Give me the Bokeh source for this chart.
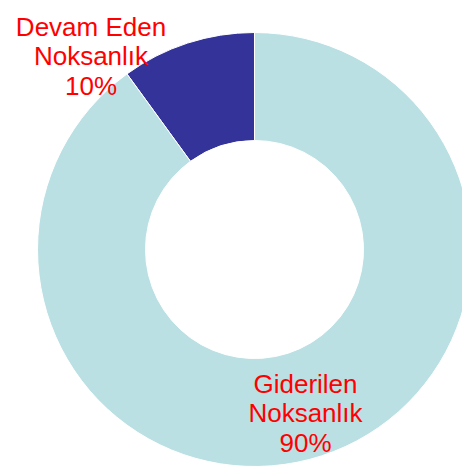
import math
from bokeh.plotting import figure
from bokeh.models import Range1d, ColumnDataSource
from bokeh.core.properties import value
from bokeh.embed import file_html
from bokeh.resources import INLINE

# data
categories = ["Devam Eden Noksanlık", "Giderilen Noksanlık"]
values = [10, 90]
colors = ["#333399", "#BBE0E3"]

# layout
W, H = 462, 467
cx, cy = 254, H - 249
r_out, r_in = 217, 109
label_pos = [(90.5, H - 26), (305, H - 383)]
line_gap = 29.7

total = sum(values)
starts, ends = [], []
a = math.pi / 2  # start at 12 o'clock, go counter-clockwise
for v in values:
    span = 2 * math.pi * v / total
    starts.append(a)
    ends.append(a + span)
    a += span

src = ColumnDataSource(dict(start=starts, end=ends, color=colors))

p = figure(width=W, height=H, output_backend="svg", toolbar_location=None,
           x_range=Range1d(0, W), y_range=Range1d(0, H), min_border=0)
p.axis.visible = False
p.grid.visible = False
p.outline_line_color = None
p.background_fill_color = "white"
p.border_fill_color = "white"

p.annular_wedge(x=cx, y=cy, inner_radius=r_in, outer_radius=r_out,
                start_angle="start", end_angle="end", fill_color="color",
                line_color="white", line_width=1, source=src)

for cat, v, (lx, ly) in zip(categories, values, label_pos):
    words = cat.split(" ")
    lines = [" ".join(words[:-1]), words[-1]]
    lines.append(f"{round(100 * v / total)}%")
    xs = [lx] * len(lines)
    ys = [ly - i * line_gap for i in range(len(lines))]
    p.text(x=xs, y=ys, text=lines, text_font=value("Liberation Sans"),
           text_font_size="26px", text_color="#FF0000", text_align="center",
           text_baseline="alphabetic")

open("out.html", "w").write(file_html(p, INLINE))
